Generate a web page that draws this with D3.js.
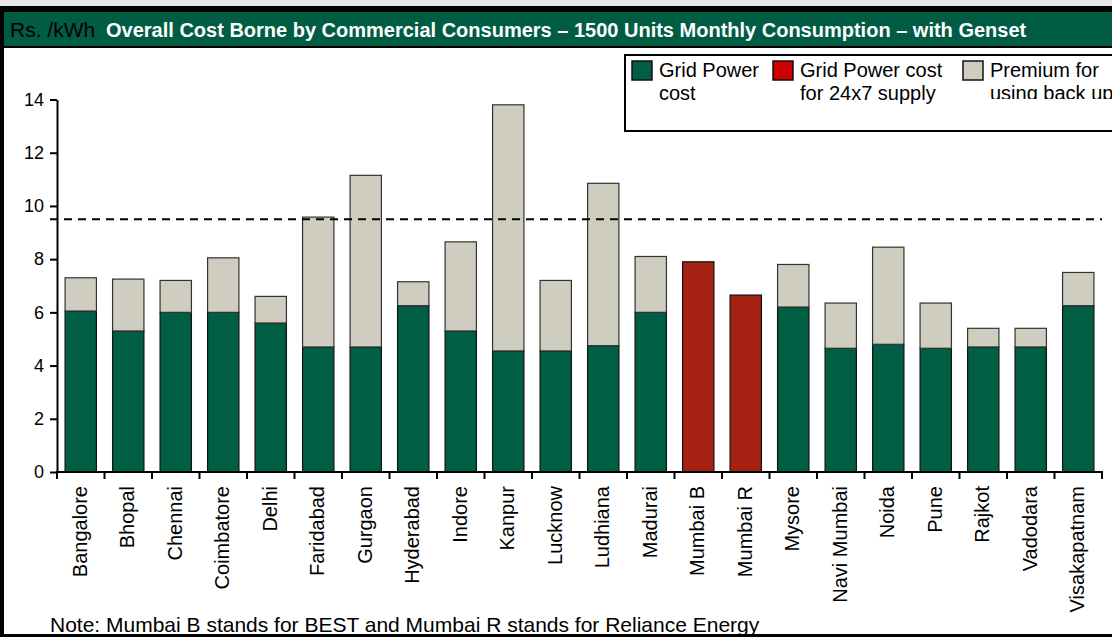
<!DOCTYPE html>
<html>
<head>
<meta charset="utf-8">
<script src="https://cdn.jsdelivr.net/npm/d3@7"></script>
<style>
body { margin: 0; background: #fff; }
text { font-family: "Liberation Sans", Arial, sans-serif; }
</style>
</head>
<body>
<script>
// data (Rs./kWh)
var cities = ["Bangalore", "Bhopal", "Chennai", "Coimbatore", "Delhi", "Faridabad", "Gurgaon",
  "Hyderabad", "Indore", "Kanpur", "Lucknow", "Ludhiana", "Madurai", "Mumbai B", "Mumbai R",
  "Mysore", "Navi Mumbai", "Noida", "Pune", "Rajkot", "Vadodara", "Visakapatnam"];
var gridCost = [6.05, 5.3, 6.0, 6.0, 5.6, 4.7, 4.7, 6.25, 5.3, 4.55, 4.55, 4.75, 6.0, 0, 0,
  6.2, 4.65, 4.8, 4.65, 4.7, 4.7, 6.25];
var grid24x7 = [0, 0, 0, 0, 0, 0, 0, 0, 0, 0, 0, 0, 0, 7.9, 6.65, 0, 0, 0, 0, 0, 0, 0];
var premium = [1.25, 1.95, 1.2, 2.05, 1.0, 4.88, 6.45, 0.9, 3.35, 9.25, 2.65, 6.1, 2.1, 0, 0,
  1.6, 1.7, 3.65, 1.7, 0.7, 0.7, 1.25];
var refLine = 9.5;
var yTicks = [0, 2, 4, 6, 8, 10, 12, 14];
var seriesNames = ["Grid Power cost", "Grid Power cost for 24x7 supply", "Premium for using back up"];

var W = 1112, H = 637;
var green = "#005E44", red = "#A52114", grey = "#CFCDC0";

var svg = d3.select("body").append("svg")
  .attr("width", W)
  .attr("height", H);

// frame
svg.append("rect").attr("x", 0).attr("y", 0).attr("width", W).attr("height", 6).attr("fill", "#e6e6e6");
svg.append("rect").attr("x", 0).attr("y", 6).attr("width", W).attr("height", 4).attr("fill", "#000");
svg.append("rect").attr("x", 0).attr("y", 6).attr("width", 4).attr("height", H - 6).attr("fill", "#000");
svg.append("rect").attr("x", 0).attr("y", H - 3).attr("width", W).attr("height", 3).attr("fill", "#000");

// title bar
svg.append("rect")
  .attr("x", 3).attr("y", 11).attr("width", W).attr("height", 36)
  .attr("fill", "#005C42").attr("stroke", "#000").attr("stroke-width", 2);
svg.append("text").attr("x", 10).attr("y", 37)
  .attr("font-size", 21).attr("fill", "#000").text("Rs. /kWh");
svg.append("text").attr("x", 106).attr("y", 37)
  .attr("font-size", 20).attr("font-weight", "bold").attr("fill", "#fff")
  .text("Overall Cost Borne by Commercial Consumers \u2013 1500 Units Monthly Consumption \u2013 with Genset");

var x = d3.scaleBand().domain(cities).range([57, 1102]).paddingInner(0.34).paddingOuter(0.17);
var y = d3.scaleLinear().domain([0, 14]).range([472, 99.5]);

// stacked data
var rows = cities.map(function(c, i) {
  return { city: c, grid: gridCost[i], grid24: grid24x7[i], premium: premium[i] };
});
var stack = d3.stack().keys(["grid", "grid24", "premium"]);
var layers = stack(rows);
var colors = { grid: green, grid24: red, premium: grey };
var strokes = { grid: "#111", grid24: "#111", premium: "#333" };

svg.append("g").selectAll("g")
  .data(layers)
  .join("g")
  .attr("fill", function(d) { return colors[d.key]; })
  .attr("stroke", function(d) { return strokes[d.key]; })
  .selectAll("rect")
  .data(function(d) { return d.filter(function(v) { return v[1] - v[0] > 0; }); })
  .join("rect")
  .attr("x", function(d) { return x(d.data.city); })
  .attr("width", x.bandwidth())
  .attr("y", function(d) { return y(d[1]); })
  .attr("height", function(d) { return y(d[0]) - y(d[1]); })
  .attr("stroke-width", 1.2);

// reference dashed line
svg.append("line")
  .attr("x1", 50).attr("x2", 1102)
  .attr("y1", y(refLine)).attr("y2", y(refLine))
  .attr("stroke", "#000").attr("stroke-width", 2).attr("stroke-dasharray", "8,6");

// y axis
var yAxis = svg.append("g")
  .attr("transform", "translate(57,0)")
  .call(d3.axisLeft(y).tickValues(yTicks).tickSize(7).tickSizeOuter(0).tickPadding(6));
yAxis.select(".domain").attr("stroke-width", 2);
yAxis.selectAll(".tick line").attr("stroke-width", 2);
yAxis.selectAll("text").attr("font-size", 18).attr("fill", "#000")
  .style("font-family", "Liberation Sans, Arial, sans-serif");

// x axis with ticks on band boundaries
var step = x.step();
var bounds = cities.map(function(c) { return x(c) - step * 0.17; });
bounds.push(x(cities[cities.length - 1]) + x.bandwidth() + step * 0.17);
svg.append("line").attr("x1", 56).attr("x2", 1103).attr("y1", y(0)).attr("y2", y(0))
  .attr("stroke", "#000").attr("stroke-width", 2);
svg.append("g").selectAll("line").data(bounds).join("line")
  .attr("x1", function(d) { return d; }).attr("x2", function(d) { return d; })
  .attr("y1", y(0)).attr("y2", y(0) + 7)
  .attr("stroke", "#000").attr("stroke-width", 2);

svg.append("g").selectAll("text").data(cities).join("text")
  .attr("transform", function(d) {
    return "translate(" + (x(d) + x.bandwidth() / 2 - 1) + "," + (y(0) + 14) + ") rotate(-90)";
  })
  .attr("text-anchor", "end")
  .attr("dy", "0.35em")
  .attr("font-size", 20)
  .attr("fill", "#000")
  .text(function(d) { return d; });

// legend
var lg = svg.append("g");
lg.append("clipPath").attr("id", "lgclip")
  .append("rect").attr("x", 600).attr("y", 50).attr("width", 520).attr("height", 49);
lg.append("rect")
  .attr("x", 625).attr("y", 55).attr("width", 500).attr("height", 76)
  .attr("fill", "#fff").attr("stroke", "#000").attr("stroke-width", 2);
var legendItems = [
  { lines: ["Grid Power", "cost"], color: green, x: 632, clip: false },
  { lines: ["Grid Power cost", "for 24x7 supply"], color: "#CC0000", x: 773, clip: false },
  { lines: ["Premium for", "using back up"], color: grey, x: 963, clip: true }
];
legendItems.forEach(function(it, i) {
  lg.append("rect").attr("x", it.x).attr("y", 61).attr("width", 20).attr("height", 19)
    .attr("fill", it.color).attr("stroke", "#111").attr("stroke-width", 1.5);
  var t = lg.append("text").attr("x", it.x + 27).attr("y", 77)
    .attr("font-size", 20).attr("fill", "#000")
    .attr("aria-label", seriesNames[i]);
  if (it.clip) t.attr("clip-path", "url(#lgclip)");
  it.lines.forEach(function(l, j) {
    t.append("tspan").attr("x", it.x + 27).attr("dy", j === 0 ? 0 : 23).text(l);
  });
});

// note
svg.append("text").attr("x", 50).attr("y", 632)
  .attr("font-size", 21).attr("fill", "#000")
  .text("Note: Mumbai B stands for BEST and Mumbai R stands for Reliance Energy");
</script>
</body>
</html>
